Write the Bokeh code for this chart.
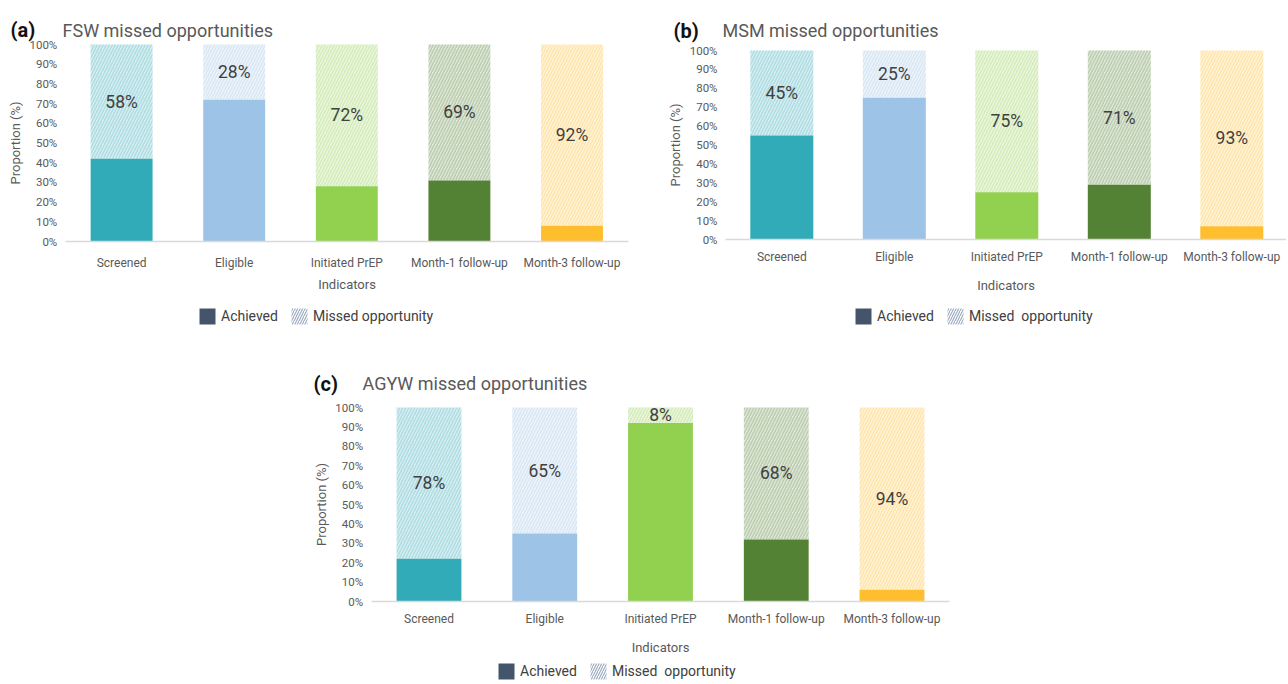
from bokeh.plotting import figure
from bokeh.models import (ColumnDataSource, Range1d, FixedTicker, PrintfTickFormatter,
                          Label, Legend, LegendItem, Spacer)
from bokeh.layouts import column, row
from bokeh.embed import file_html
from bokeh.resources import INLINE
from bokeh.core.properties import value

# ---------------- data ----------------
categories = ["Screened", "Eligible", "Initiated PrEP", "Month-1 follow-up", "Month-3 follow-up"]
bar_colors = ["#31ABB8", "#9DC3E6", "#92D050", "#548235", "#FFBE2E"]

fsw_achieved = [42, 72, 28, 31, 8]
fsw_missed = [58, 28, 72, 69, 92]

msm_achieved = [55, 75, 25, 29, 7]
msm_missed = [45, 25, 75, 71, 93]

agyw_achieved = [22, 35, 92, 32, 6]
agyw_missed = [78, 65, 8, 68, 94]

y_ticks = [0, 10, 20, 30, 40, 50, 60, 70, 80, 90, 100]

FONT = "Roboto"
TXT = "#595959"


def make_panel(tag, title, achieved, missed, legend_missed, geom):
    (fig_left, fig_top, width, height, c0, step, y0px, y100px, bar_width,
     tag_x, title_x, title_base, label_std, axis_label_std, legend_xy) = geom
    n = len(categories)
    idx = list(range(n))
    # ranges chosen so that the whole canvas is the plotting frame
    x_start = (fig_left - c0) / step
    x_end = (fig_left + width - c0) / step
    upp = 100.0 / (y0px - y100px)
    y_end = (y0px - fig_top) * upp
    y_start = (y0px - (fig_top + height)) * upp

    src = ColumnDataSource(dict(
        x=idx,
        ach=achieved,
        top=[a + m for a, m in zip(achieved, missed)],
        mid=[a + m / 2 for a, m in zip(achieved, missed)],
        lbl=[f"{m}%" for m in missed],
        color=bar_colors,
    ))
    p = figure(x_range=Range1d(x_start, x_end), y_range=Range1d(y_start, y_end),
               width=width, height=height, output_backend="svg", toolbar_location=None,
               min_border=0, min_border_left=0, min_border_right=0,
               min_border_top=0, min_border_bottom=0)
    p.outline_line_color = None
    p.grid.visible = False

    p.vbar(x="x", bottom=0, top="ach", width=bar_width, fill_color="color",
           line_color=None, source=src)
    p.vbar(x="x", bottom="ach", top="top", width=bar_width, fill_color="color",
           fill_alpha=0.19, line_color=None, hatch_pattern="/", hatch_color="color",
           hatch_alpha=0.26, hatch_scale=6, hatch_weight=1.5, source=src)
    p.text(x="x", y="mid", text="lbl", text_font=value(FONT), text_font_size="17.5px",
           text_color="#404040", text_align="center", text_baseline="middle", source=src)

    # y axis
    p.yaxis.fixed_location = -0.5
    p.yaxis.bounds = (y_ticks[0], y_ticks[-1])
    p.yaxis.ticker = FixedTicker(ticks=y_ticks)
    p.yaxis.formatter = PrintfTickFormatter(format="%d%%")
    p.yaxis.axis_line_color = None
    p.yaxis.major_tick_line_color = None
    p.yaxis.minor_tick_line_color = None
    p.yaxis.major_tick_out = 0
    p.yaxis.major_label_standoff = 8
    p.yaxis.axis_label = "Proportion (%)"
    p.yaxis.axis_label_standoff = 4

    # x axis
    p.xaxis.fixed_location = 0
    p.xaxis.bounds = (-0.5, n - 0.5)
    p.xaxis.ticker = FixedTicker(ticks=idx)
    p.xaxis.major_label_overrides = {i: c for i, c in zip(idx, categories)}
    p.xaxis.axis_line_color = "#D9D9D9"
    p.xaxis.axis_line_width = 1.5
    p.xaxis.major_tick_line_color = None
    p.xaxis.minor_tick_line_color = None
    p.xaxis.major_tick_out = 0
    p.xaxis.major_label_standoff = label_std
    p.xaxis.axis_label = "Indicators"
    p.xaxis.axis_label_standoff = axis_label_std

    for ax in (p.xaxis[0], p.yaxis[0]):
        ax.major_label_text_font = FONT
        ax.axis_label_text_font = FONT
        ax.axis_label_text_font_style = "normal"
        ax.major_label_text_color = TXT
        ax.axis_label_text_color = TXT
        ax.axis_label_text_font_size = "13px"
    p.xaxis.major_label_text_font_size = "12px"
    p.yaxis.major_label_text_font_size = "11.5px"

    # titles
    p.add_layout(Label(x=tag_x, y=height - title_base, x_units="screen", y_units="screen",
                       text=tag, text_font=FONT, text_font_style="bold",
                       text_font_size="20px", text_color="#111111",
                       text_baseline="alphabetic"))
    p.add_layout(Label(x=title_x, y=height - title_base, x_units="screen", y_units="screen",
                       text=title, text_font=FONT, text_font_size="18px",
                       text_color=TXT, text_baseline="alphabetic"))

    # legend (hidden proxy renderers supply the swatches)
    r1 = p.vbar(x="x", bottom=0, top="ach", width=bar_width, fill_color="#44546A",
                line_color=None, source=src, visible=False)
    r2 = p.vbar(x="x", bottom="ach", top="top", width=bar_width, fill_color="white",
                line_color=None, hatch_pattern="/", hatch_color="#8497B0", hatch_alpha=0.8,
                hatch_scale=5, hatch_weight=1.2, source=src, visible=False)
    legend = Legend(items=[LegendItem(label=value("Achieved"), renderers=[r1]),
                           LegendItem(label=value(legend_missed), renderers=[r2])],
                    orientation="horizontal", location=legend_xy,
                    border_line_color=None, background_fill_alpha=0,
                    inactive_fill_alpha=0,
                    label_text_font=FONT, label_text_font_size="14px",
                    label_text_color="#404040", glyph_width=20, glyph_height=20,
                    label_standoff=4, spacing=11, padding=0, margin=0)
    p.add_layout(legend, "center")
    return p


# geometry (page px): fig_left, fig_top, width, height, first category centre, category step,
# pixel of 0%, pixel of 100%, bar width, tag x, title x, title baseline, label standoffs, legend
geom_a = (0, 0, 654, 344, 121.1, 112.6, 241, 44, 0.55, 10, 62, 29.5, 14, 4, (197, 18))
geom_b = (654, 0, 632, 344, 781.3, 112.5, 239, 50, 0.56, 19, 68, 30, 10, 11, (199, 18))
geom_c = (300, 344, 679, 338, 428.5, 115.75, 601, 407, 0.56, 13, 62, 39, 10, 11, (196, 1))

pa = make_panel("(a)", "FSW missed opportunities", fsw_achieved, fsw_missed,
                "Missed opportunity", geom_a)
pb = make_panel("(b)", "MSM missed opportunities", msm_achieved, msm_missed,
                "Missed  opportunity", geom_b)
pc = make_panel("(c)", "AGYW missed opportunities", agyw_achieved, agyw_missed,
                "Missed  opportunity", geom_c)

layout = column(row(pa, pb), row(Spacer(width=300, height=338), pc))

open("out.html", "w").write(file_html(layout, INLINE))
